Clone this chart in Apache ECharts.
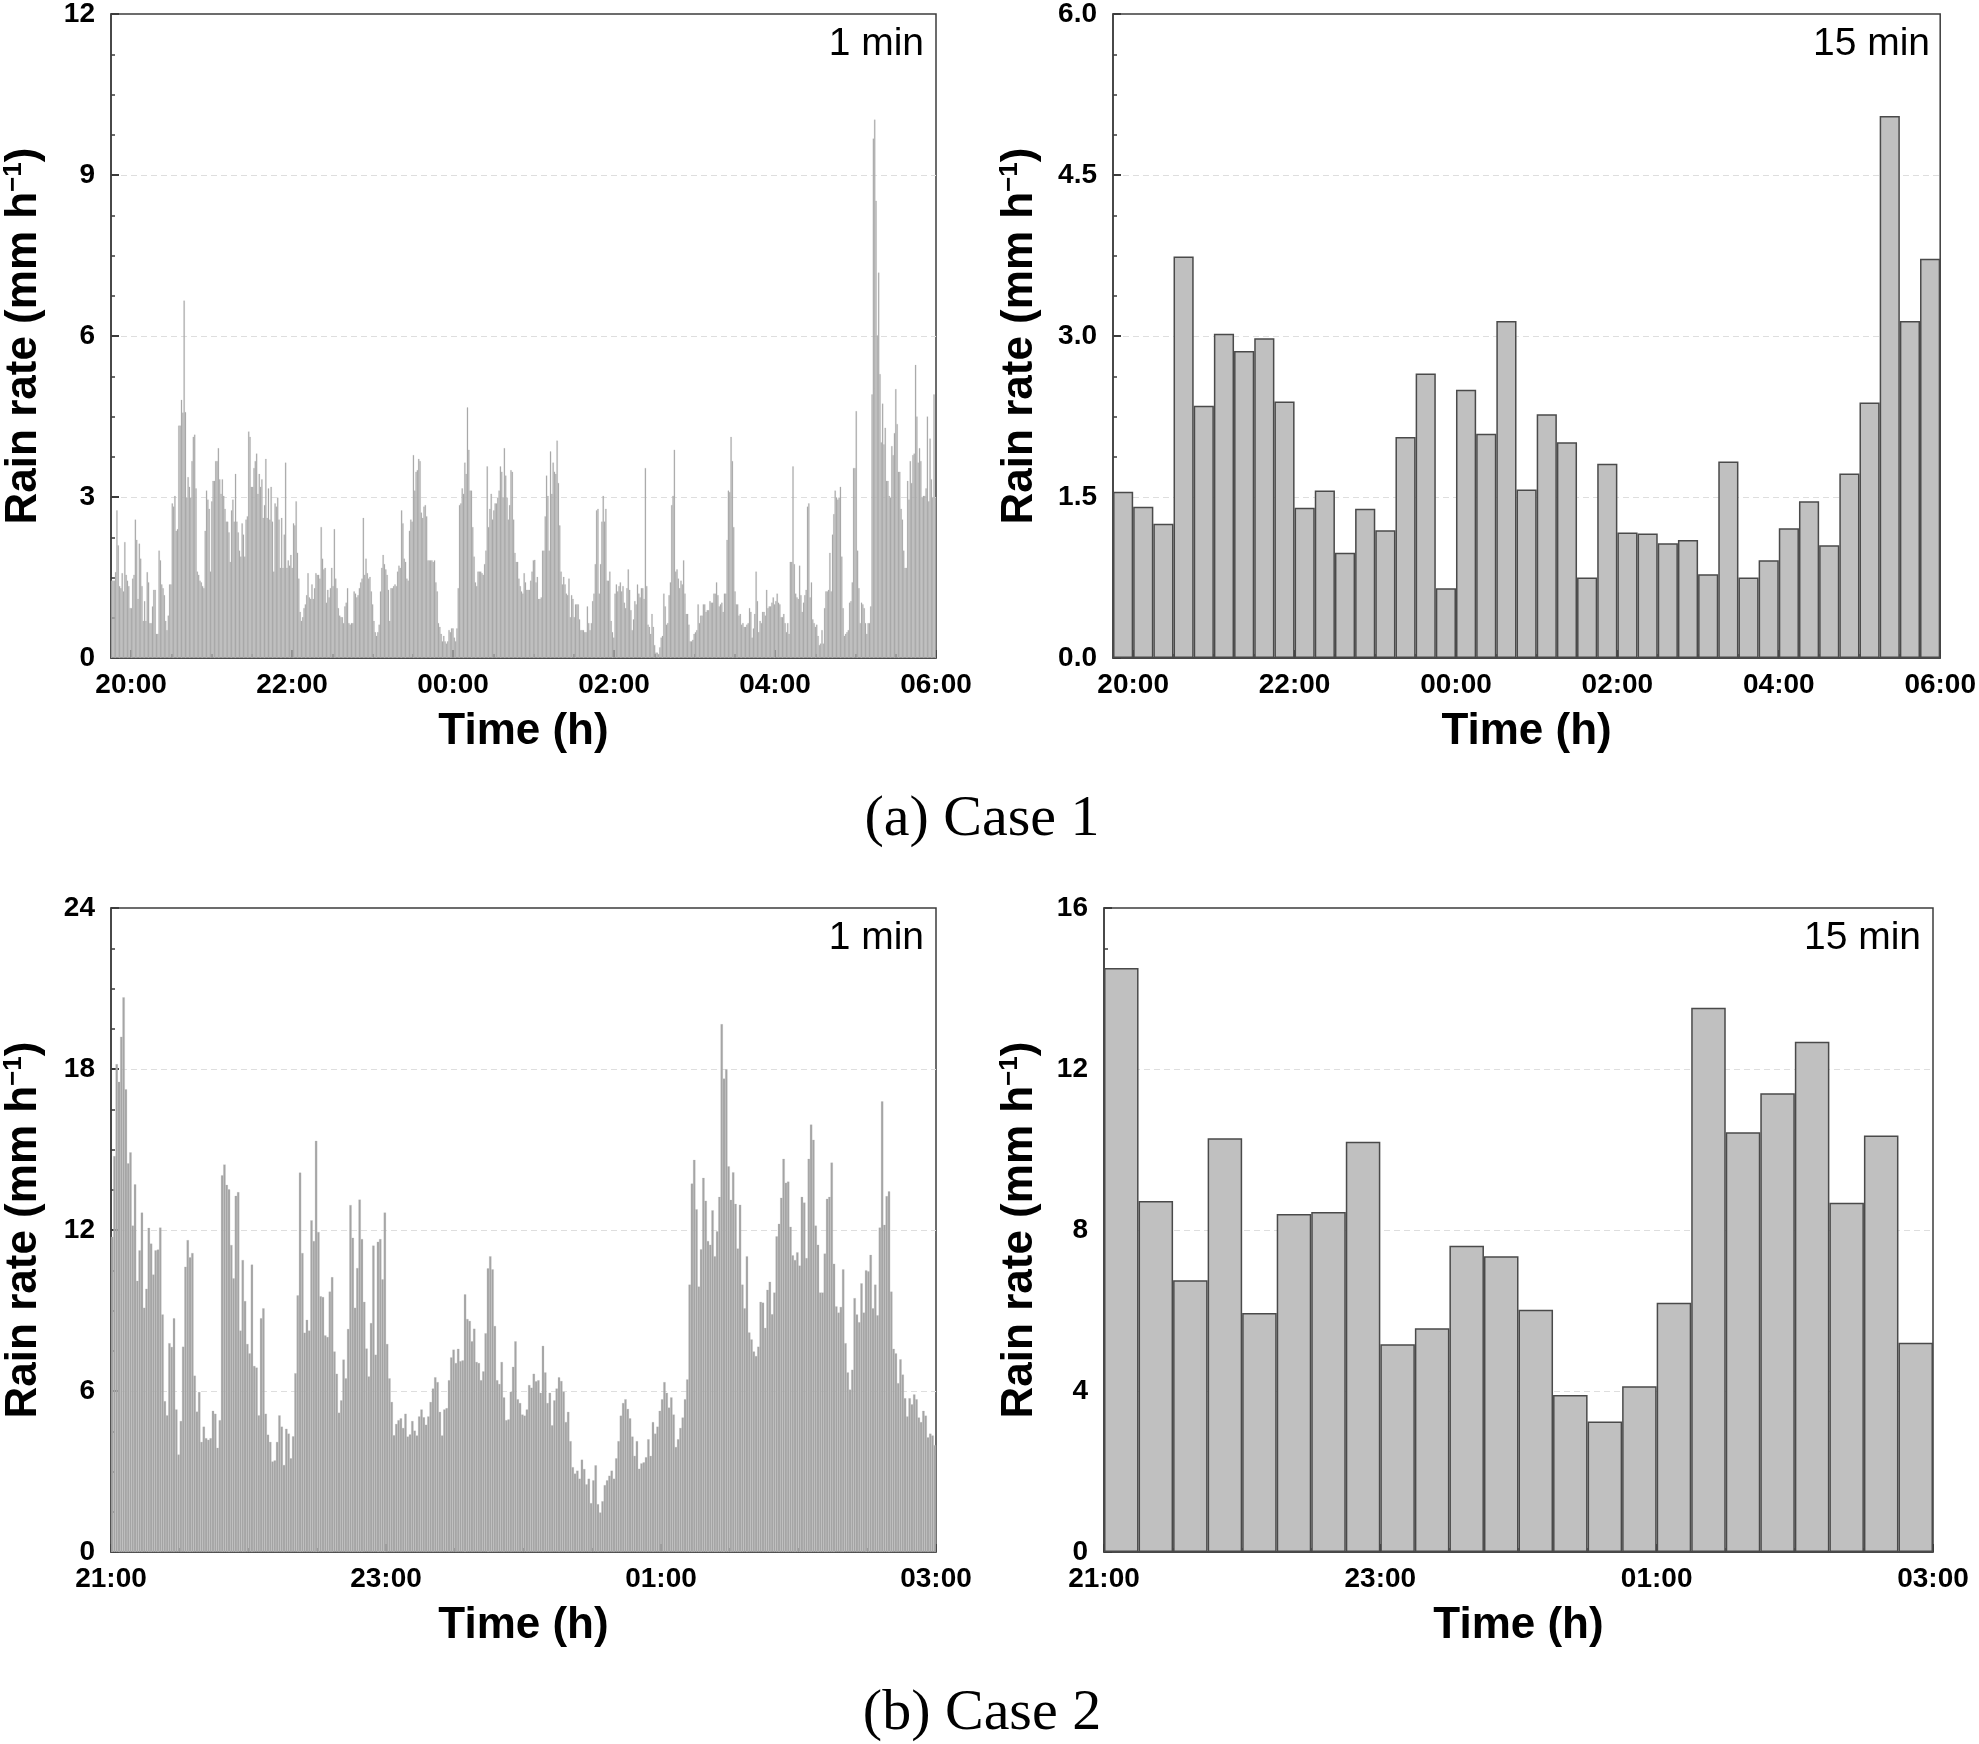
<!DOCTYPE html>
<html>
<head>
<meta charset="utf-8">
<script src="https://cdn.jsdelivr.net/npm/echarts@6/dist/echarts.min.js"></script>
<style>
html,body{margin:0;padding:0;background:#fff;}
#chart{width:1979px;height:1744px;}
</style>
</head>
<body>
<div id="chart"></div>
<script>
// ---------- DATA ----------
// Case 1, 1-min rain rate (mm/h), from 19:45 to 06:00
const case1Min1A = [1.44,1.44,1.44,1.6,2.75,2.1,1.34,1.3,1.58,1.24,2.16,1.55,1.44,1.34,0.93,0.93,1.48,1.55,2.58,2.2,1.1,2.13,1.85,1.34,0.69,1.06,0.69,1.6,1.41,0.65,0.65,0.96,1.27,1.27,0.45,0.45,2.0,1.82,1.37,1.3,1.17,0.69,0.52,0.79,1.37,1.37,2.88,2.82,3.02,2.37,2.4,4.33,4.33,4.81,4.57,6.66,4.58,2.99,3.37,3.19,2.99,3.67,4.12,4.16,3.16,1.61,1.55,1.44,1.41,1.34,1.3,2.37,3.12,2.95,2.78,1.61,2.92,3.3,3.3,3.67,3.67,3.91,3.33,3.06,3.33,3.02,2.78,2.54,2.54,2.34,1.79,2.75,2.95,2.54,3.43,2.54,2.34,2.0,1.89,2.51,2.3,1.89,2.58,2.64,4.22,4.12,3.19,3.19,3.54,3.67,3.81,3.06,3.43,3.19,3.33,2.61,2.85,3.71,2.61,3.16,2.58,3.19,2.54,1.61,2.88,2.82,2.99,2.58,1.68,2.61,1.68,2.3,3.64,1.68,1.82,1.72,1.92,1.68,2.51,2.47,2.92,1.96,1.48,0.86,0.69,0.76,0.93,1.0,1.17,1.58,1.13,1.1,1.37,1.1,1.3,1.58,1.55,1.55,1.48,2.44,1.85,1.65,1.68,1.03,1.27,1.13,1.3,1.68,1.34,2.4,1.48,1.3,0.93,0.79,0.76,0.76,0.65,0.96,1.03,1.3,0.65,0.62,0.65,0.65,1.24,1.2,1.13,1.17,1.3,1.41,1.48,2.61,1.55,1.85,1.58,1.48,1.51,1.24,1.0,0.69,0.48,0.41,0.48,0.62,1.24,1.68,1.92,1.75,1.65,1.55,1.27,0.69,1.3,1.3,1.34,1.37,1.34,1.61,1.72,1.68,2.75,2.51,1.85,1.79,1.48,1.44,2.37,2.58,2.54,3.78,3.12,3.47,3.5,3.71,3.67,2.71,2.61,2.82,2.85,2.64,1.82,1.82,1.82,1.82,1.79,1.82,1.41,1.24,0.65,0.58,0.45,0.31,0.41,0.31,0.27,0.31,0.52,0.48,0.55,0.55,0.38,0.31,0.55,1.3,2.85,2.88,3.16,3.06,3.64,3.43,4.67,3.88,3.12,3.12,2.44,1.89,1.41,1.34,1.61,1.61,1.61,1.58,1.55,1.75,2.0,3.57,2.44,2.78,3.06,2.58,2.75,2.88,2.88,2.99,3.12,3.57,3.47,2.99,3.91,3.4,2.99,2.58,2.85,3.5,3.47,2.58,1.96,1.79,1.79,1.48,1.34,1.24,1.2,1.58,1.41,1.27,1.27];
const case1Min1B = [1.27,1.44,1.61,1.82,1.83,1.41,1.51,1.1,1.1,1.13,2.0,2.0,2.64,3.4,3.02,2.0,3.85,3.06,3.64,3.47,3.43,4.05,3.26,2.47,1.61,1.37,1.51,1.37,1.2,1.17,1.48,0.76,1.17,1.1,0.76,1.0,1.0,1.0,0.72,0.52,0.52,0.52,0.48,0.48,0.96,0.65,0.52,0.65,1.06,1.2,1.75,2.75,2.78,1.2,1.75,2.54,3.02,2.54,2.78,1.44,1.44,1.61,0.69,0.48,0.38,1.2,1.37,1.24,1.34,1.41,1.24,1.34,1.03,0.93,1.3,1.65,1.27,0.89,0.52,0.72,1.06,1.0,1.37,1.2,1.13,1.3,1.3,1.1,3.54,1.34,0.62,0.58,0.45,0.82,0.58,0.24,0.1,0.1,0.07,0.2,0.38,0.41,1.2,0.96,0.62,0.65,1.17,1.41,2.85,3.02,3.88,1.61,1.65,1.48,1.3,1.44,1.37,1.82,1.2,0.82,0.82,0.62,0.31,0.31,0.34,0.45,0.48,0.52,1.0,0.65,0.79,0.79,1.0,1.0,0.86,0.89,0.89,1.06,1.03,1.03,1.2,1.2,1.41,1.17,0.96,1.0,1.03,0.86,1.2,1.2,2.2,3.12,3.09,4.12,3.67,2.44,1.24,1.0,1.0,0.79,0.82,0.62,0.65,0.58,0.58,0.62,0.65,0.93,0.86,0.38,0.55,0.82,1.61,1.06,0.48,0.69,0.65,0.86,0.86,0.79,1.27,0.93,0.96,0.96,1.03,1.13,1.0,1.06,1.2,1.03,1.0,0.76,0.76,0.82,0.65,0.48,0.65,0.45,1.79,1.79,3.57,1.75,1.2,1.13,1.1,1.72,1.17,0.86,1.03,1.17,1.27,2.82,2.88,1.13,1.41,0.72,0.65,0.58,0.62,0.41,0.24,0.27,0.52,0.27,0.93,1.24,1.24,1.27,1.96,1.24,2.3,2.68,3.12,2.99,2.95,2.99,3.19,1.89,0.93,0.41,0.45,0.48,0.52,1.03,1.06,1.41,3.54,3.54,4.6,2.0,1.3,0.65,1.03,1.0,0.93,0.65,0.45,0.65,0.65,0.96,4.91,9.68,10.03,8.52,6.01,7.18,5.29,4.02,4.74,3.98,4.29,3.3,3.3,3.02,2.99,3.95,3.78,4.19,5.01,4.36,3.47,3.47,2.78,2.58,2.0,1.68,1.68,3.3,2.95,3.67,3.26,3.78,3.81,5.46,4.5,3.64,3.91,3.67,2.99,3.02,3.02,3.16,4.5,2.92,4.09,3.33,2.99,4.91,2.99];
// Case 1, 15-min rain rate, bins from 19:45 to 06:00
const case1Min15 = [1.55,1.41,1.25,3.74,2.35,3.02,2.86,2.98,2.39,1.40,1.56,0.98,1.39,1.19,2.06,2.65,0.65,2.50,2.09,3.14,1.57,2.27,2.01,0.75,1.81,1.17,1.16,1.07,1.10,0.78,1.83,0.75,0.91,1.21,1.46,1.05,1.72,2.38,5.05,3.14,3.72];
// Case 2, 1-min rain rate, 21:00 to 03:00
const case2Min1A = [11.74,14.75,18.18,17.52,19.2,20.67,17.24,14.48,14.89,12.16,13.7,10.1,11.24,12.65,9.1,9.81,12.08,11.49,10.34,11.24,11.27,12.09,8.85,5.62,5.09,7.78,7.64,8.71,5.31,3.63,4.88,7.65,10.63,11.62,10.98,11.14,6.57,5.23,5.96,4.1,4.67,4.24,4.18,4.24,5.26,5.15,3.88,4.91,14.04,14.44,13.68,13.51,11.44,10.2,13.27,13.41,8.25,10.88,9.35,7.75,7.4,10.71,6.93,6.87,5.09,8.71,9.08,5.15,4.37,4.1,3.37,3.41,4.1,5.09,4.67,3.24,4.59,4.41,3.49,4.31,6.66,9.56,14.14,11.14,8.17,8.65,8.25,12.36,11.59,15.32,11.92,9.53,9.5,8.07,8.01,9.7,10.24,7.47,6.64,5.19,5.65,7.17,6.47,8.31,12.93,11.71,9.1,10.58,13.13,11.66,9.32,7.58,6.54,8.53,11.42,7.35,11.56,11.66,10.16,12.65,7.75,6.47,5.59,4.35,4.77,4.91,4.98,4.62,5.15,4.3,4.38,4.88,4.52,4.34,5.05,5.31,5.02,4.74,5.05,5.59,6.09,6.51,6.33,5.22,4.34,5.31,5.36,6.4,7.25,7.54,7.04,7.57,7.11,7.14,9.6,8.68,8.61,7.85,8.32,7.08,7.04,6.4,6.73,8.15,10.57,11.02,10.53,8.42,6.4,6.26,7.08,5.76,4.91,4.94,5.97,6.9,7.85,5.69,5.55,5.12];
const case2Min1B = [5.08,5.31,6.22,6.12,6.64,6.36,6.4,5.93,7.68,6.69,5.55,5.93,4.72,5.65,6.09,6.51,6.37,5.97,4.84,5.22,4.13,3.16,2.92,3.03,2.73,3.44,3.09,2.52,2.73,1.82,2.67,3.23,1.78,1.47,1.89,2.49,2.67,2.84,3.03,2.73,3.49,4.13,5.08,5.55,5.69,5.33,4.98,4.3,3.58,4.13,3.1,3.3,3.34,3.53,4.2,3.58,4.84,4.41,4.67,5.26,5.69,6.33,5.93,5.38,5.76,5.12,3.91,4.2,4.62,5.01,5.69,6.43,9.96,13.73,14.61,12.77,9.89,11.28,13.94,13.09,11.59,11.45,12.73,11.02,11.95,13.23,19.67,17.64,17.99,14.37,13.12,14.15,12.97,11.31,12.94,9.96,9.08,11.02,8.18,7.92,7.47,7.3,7.65,9.32,9.29,8.35,9.77,10.07,8.86,9.67,11.76,12.23,13.2,14.65,13.76,13.8,12.12,11.05,10.88,11.17,10.67,13.23,13.02,10.95,14.65,15.93,15.36,12.16,11.45,9.67,9.67,11.12,13.16,13.23,14.51,10.74,9.15,8.92,9.13,10.53,7.78,6.69,6.05,6.79,9.46,8.85,8.56,10.01,8.92,10.5,10.46,11.07,9.08,9.96,8.82,12.09,16.79,12.19,13.26,13.44,9.7,7.57,7.4,6.29,7.18,6.61,5.73,5.05,5.73,5.5,5.87,5.69,5.01,4.84,5.26,5.08,4.27,4.41,4.34,3.98];
// Case 2, 15-min rain rate, bins from 21:00 to 03:00
const case2Min15 = [14.51,8.72,6.75,10.28,5.94,8.40,8.45,10.19,5.16,5.56,7.61,7.35,6.02,3.90,3.24,4.12,6.19,13.52,10.43,11.40,12.68,8.68,10.35,5.20];

// Tick positions (minutes after first labelled hour) and labels
const case1TickMinutes = [0,120,240,360,480,600];
const case1TickLabels = ['20:00','22:00','00:00','02:00','04:00','06:00'];
const case1MinorMinutes = [30,60,90,150,180,210,270,300,330,390,420,450,510,540,570];
const case2TickMinutes = [0,120,240,360];
const case2TickLabels = ['21:00','23:00','01:00','03:00'];
const case2MinorMinutes = [30,60,90,150,180,210,270,300,330];
const panelTags = ['1 min','15 min','1 min','15 min'];
const captions = ['(a) Case 1','(b) Case 2'];

// ---------- CHART ----------
const case1Min1 = case1Min1A.concat(case1Min1B);
const case2Min1 = case2Min1A.concat(case2Min1B);

const FONT = "'Liberation Sans', Arial, Helvetica, sans-serif";
const AXC = '#3c3c3c';

const panels = [
  {grid:{left:107, top:14, width:829, height:644}, data:case1Min1, fine:true,
   xMin:-15, xMax:600, ticks:case1TickMinutes, labels:case1TickLabels, minor:case1MinorMinutes,
   yMax:12, yInt:3, dec:0, nameGap:64},
  {grid:{left:1113, top:14, width:829, height:644}, data:case1Min15, fine:false,
   xMin:-15, xMax:600, ticks:case1TickMinutes, labels:case1TickLabels, minor:case1MinorMinutes,
   yMax:6, yInt:1.5, dec:1, nameGap:70},
  {grid:{left:107, top:908, width:829, height:644}, data:case2Min1, fine:true,
   xMin:0, xMax:360, ticks:case2TickMinutes, labels:case2TickLabels, minor:case2MinorMinutes,
   yMax:24, yInt:6, dec:0, nameGap:64},
  {grid:{left:1104, top:908, width:829, height:644}, data:case2Min15, fine:false,
   xMin:0, xMax:360, ticks:case2TickMinutes, labels:case2TickLabels, minor:case2MinorMinutes,
   yMax:16, yInt:4, dec:0, nameGap:61}
];

const grids = [], xAxes = [], yAxes = [], series = [], graphics = [];
panels.forEach((p, i) => {
  grids.push(Object.assign({show:true, borderColor:AXC, borderWidth:1.5, backgroundColor:'transparent', containLabel:false}, p.grid));
  xAxes.push({type:'category', gridIndex:i, show:false, boundaryGap:true,
    data:p.data.map((_, k) => k)});
  xAxes.push({type:'value', gridIndex:i, position:'bottom', min:p.xMin, max:p.xMax,
    axisLine:{show:true, onZero:false, lineStyle:{color:AXC, width:1.5}},
    axisTick:{show:true, inside:true, length:8, customValues:p.ticks, lineStyle:{color:AXC, width:2}},
    axisLabel:{show:true, customValues:p.ticks, margin:13,
      formatter:(v) => { const k = p.ticks.indexOf(Math.round(v)); return k >= 0 ? p.labels[k] : ''; },
      fontSize:28, fontWeight:'bold', color:'#000', fontFamily:FONT},
    splitLine:{show:false},
    name:'Time (h)', nameLocation:'middle', nameGap:52,
    nameTextStyle:{fontSize:44, fontWeight:'bold', color:'#000', fontFamily:FONT}});
  xAxes.push({type:'value', gridIndex:i, position:'bottom', min:p.xMin, max:p.xMax,
    axisLine:{show:false, onZero:false},
    axisTick:{show:true, inside:true, length:4, customValues:p.minor, lineStyle:{color:AXC, width:1.5}},
    axisLabel:{show:false}, splitLine:{show:false}});
  yAxes.push({type:'value', gridIndex:i, min:0, max:p.yMax, interval:p.yInt,
    axisLine:{show:true, onZero:false, lineStyle:{color:AXC, width:1.5}},
    axisTick:{show:true, inside:true, length:8, lineStyle:{color:AXC, width:2}},
    minorTick:{show:true, splitNumber:4, length:4, lineStyle:{color:AXC, width:1.5}},
    axisLabel:{margin:16, fontSize:28, fontWeight:'bold', color:'#000', fontFamily:FONT,
      formatter:(v) => p.dec ? v.toFixed(p.dec) : String(v)},
    splitLine:{show:true, showMinLine:false, showMaxLine:false, lineStyle:{type:[6,4], color:'#dedede', width:1}},
    name:'Rain rate (mm h{sup|−1})', nameLocation:'middle', nameGap:p.nameGap,
    nameTextStyle:{fontSize:44, fontWeight:'bold', color:'#000', fontFamily:FONT,
      rich:{sup:{fontSize:26, fontWeight:'bold', color:'#000', fontFamily:FONT, verticalAlign:'top', lineHeight:46}}}});
  series.push({type:'bar', xAxisIndex:3*i, yAxisIndex:i, data:p.data,
    barWidth:'100%', barCategoryGap:'0%', silent:true,
    itemStyle: p.fine ? {color:'#a4a4a4', borderColor:'#bababa', borderWidth:0.25}
                      : {color:'#c0c0c0', borderColor:'#4a4a4a', borderWidth:1.5}});
  const g = p.grid;
  graphics.push({type:'text', x:g.left + g.width - 12, y:g.top + 30, z:100,
    style:{text:panelTags[i], align:'right', verticalAlign:'middle', textAlign:'right', textVerticalAlign:'middle',
      fill:'#000', font:'39px ' + FONT}});
});
const capFont = "58px 'Liberation Serif', 'Times New Roman', serif";
graphics.push({type:'text', x:982, y:820, style:{text:captions[0], align:'center', verticalAlign:'middle', textAlign:'center', textVerticalAlign:'middle', fill:'#000', font:capFont}});
graphics.push({type:'text', x:982, y:1714, style:{text:captions[1], align:'center', verticalAlign:'middle', textAlign:'center', textVerticalAlign:'middle', fill:'#000', font:capFont}});

const chart = echarts.init(document.getElementById('chart'), null, {renderer:'canvas'});
chart.setOption({
  backgroundColor:'#fff',
  animation:false,
  grid:grids, xAxis:xAxes, yAxis:yAxes, series:series, graphic:graphics
});
</script>
</body>
</html>
